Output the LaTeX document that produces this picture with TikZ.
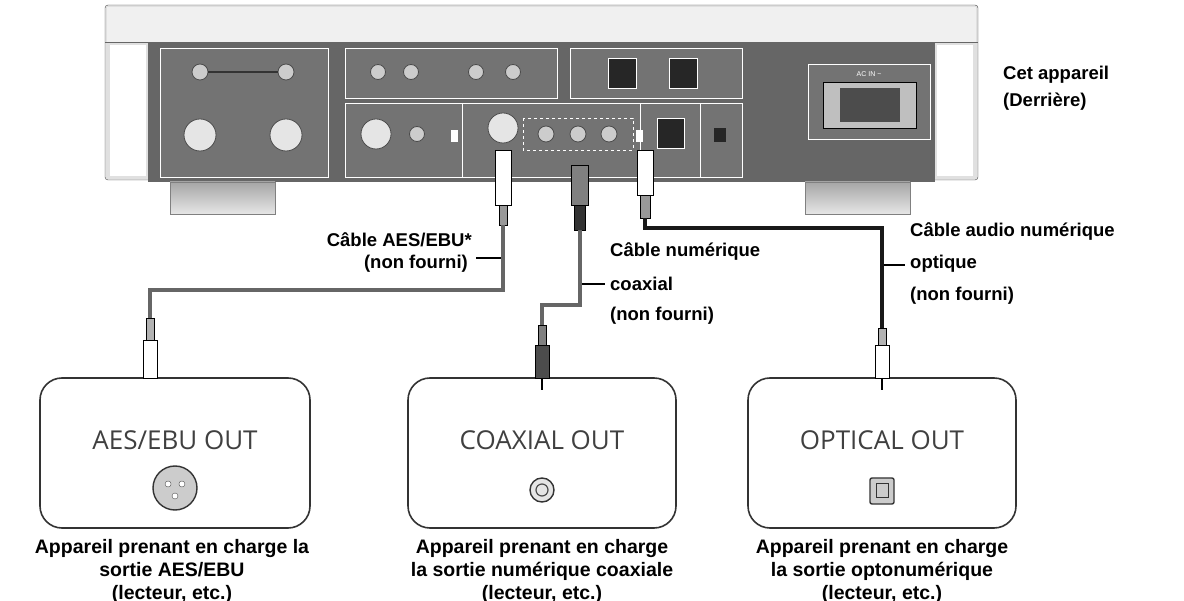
\documentclass[tikz,border=0pt]{standalone}
\usepackage{fontspec}
\setmainfont{Liberation Sans}
\newfontfamily\boxfont{Open Sans}
\begin{document}
\begin{tikzpicture}[x=1pt,y=-1pt,
  lbl/.style={font=\fontsize{18.5}{22}\selectfont\bfseries, inner sep=0pt},
  captext/.style={font=\fontsize{19.5}{23}\selectfont\bfseries, align=center, inner sep=0pt},
  title/.style={font=\boxfont\fontsize{26}{28}\selectfont, text=black!75, inner sep=0pt},
  devbox/.style={draw=black!80, line width=1.6pt, rounded corners=22pt, fill=white},
  subpanel/.style={draw=white, line width=1pt, fill=black!55},
  jack/.style={circle, draw=black!70, fill=black!20, line width=0.8pt},
  cable/.style={line width=3.6pt, draw=black!60},
  leader/.style={line width=1.6pt}]
\useasboundingbox (0,0) rectangle (1184,601);

% device body
\fill[black!12, draw=black!70, rounded corners=3pt] (105,5) rectangle (978,180);
\fill[black!6] (107,7) rectangle (976,42);
\draw[black!60] (105,42) -- (978,42);
\fill[white] (110,45) rectangle (146,176);
\fill[white] (937,45) rectangle (973,176);
\fill[black!60] (148,42) rectangle (935,182);
% feet
\shade[top color=black!35, bottom color=black!10, draw=black!50] (170,182) rectangle (275,214);
\shade[top color=black!35, bottom color=black!10, draw=black!50] (805,182) rectangle (910,214);

% panels
\draw[subpanel] (160,49) rectangle (328,178);
\draw[subpanel] (345,49) rectangle (557,99);
\draw[subpanel] (570,49) rectangle (742,99);
\draw[subpanel] (345,104) rectangle (462,178);
\draw[subpanel] (462,104) rectangle (640,178);
\draw[subpanel] (640,104) rectangle (700,178);
\draw[subpanel] (700,104) rectangle (742,178);
\draw[subpanel] (808,65) rectangle (930,140);
\node[font=\fontsize{7}{8}\selectfont, text=white] at (869,74) {AC IN \textasciitilde};
\fill[black!25, draw=black] (823,82) rectangle (916,128);
\fill[black!70] (840,88) rectangle (900,122);

% jacks
\foreach \x in {200,286} \node[jack, minimum size=16pt] at (\x,72) {};
\draw[black!80, line width=2pt] (208,72) -- (278,72);
\foreach \x in {200,286} \node[jack, minimum size=32pt, fill=black!10] at (\x,135) {};
\foreach \x in {378,411,476,513} \node[jack, minimum size=15pt] at (\x,72) {};
\foreach \x in {622,683} \fill[black!85, draw=white] (\x-14,58) rectangle (\x+14,88);
\node[jack, minimum size=30pt, fill=black!10] at (376,134) {};
\node[jack, minimum size=15pt] at (417,134) {};
\fill[white] (451,130) rectangle (458,142);
\node[jack, minimum size=30pt, fill=black!10] at (503,128) {};
\draw[white, dashed, line width=0.8pt] (523,118) rectangle (633,150);
\foreach \x in {546,578,609} \node[jack, minimum size=16pt] at (\x,134) {};
\fill[white] (636,130) rectangle (643,142);
\fill[black!85, draw=white] (657,118) rectangle (684,148);
\fill[black!85] (714,128) rectangle (726,142);

% device plugs
\fill[white, draw=black] (495,150) rectangle (511,205);
\fill[black!40, draw=black] (499,205) rectangle (507,225);
\fill[black!50, draw=black] (571,165) rectangle (588,205);
\fill[black!80, draw=black] (574,205) rectangle (585,230);
\fill[white, draw=black] (637,150) rectangle (653,195);
\fill[black!40, draw=black] (640,195) rectangle (650,218);
\coordinate (aestop) at (503,225);
\coordinate (coaxtop) at (580,230);
\coordinate (opttop) at (645,218);

% device label
\node[lbl, anchor=west] (dev1) at (1003,75) {Cet appareil};
\node[lbl, anchor=west] (dev2) at (1003,102) {(Derrière)};

% boxes
\draw[devbox] (40,378) rectangle (310,528);
\draw[devbox] (408,378) rectangle (676,528);
\draw[devbox] (748,378) rectangle (1016,528);
\node[title] (t1) at (175,440) {AES/EBU OUT};
\node[title] (t2) at (542,440) {COAXIAL OUT};
\node[title] (t3) at (882,440) {OPTICAL OUT};

% box connectors
\node[circle, draw=black!80, fill=black!20, line width=1.4pt, minimum size=44pt] (xlr) at (175,488) {};
\foreach \a in {90,210,330} \fill[white, draw=black!70] (xlr.center) ++(\a:8) circle (3);
\node[circle, draw=black!80, fill=black!10, line width=1.4pt, minimum size=24pt] (rca) at (542,490) {};
\draw[black!70, line width=1.2pt] (rca.center) circle (6);
\fill[black!20, draw=black!80, line width=1.4pt, rounded corners=2pt] (870,478) rectangle (894,504);
\draw[black!80, line width=1pt] (876,484) rectangle (888,498);

% box plugs
\fill[white, draw=black] (143,340) rectangle (157,378);
\fill[black!30, draw=black] (146,318) rectangle (154,340);
\fill[black!70, draw=black] (535,345) rectangle (549,378);
\fill[black!50, draw=black] (538,325) rectangle (546,345);
\draw[black, line width=1.4pt] (542,378) -- (542,390);
\fill[white, draw=black] (875,345) rectangle (889,378);
\fill[black!30, draw=black] (878,328) rectangle (886,345);
\draw[black, line width=1.4pt] (882,378) -- (882,390);
\coordinate (aesbot) at (150,318);
\coordinate (coaxbot) at (542,325);
\coordinate (optbot) at (882,328);

% cables
\draw[cable] (aestop) -- (503,290) -- (150,290) -- (aesbot);
\draw[cable] (coaxtop) -- (580,305) -- (542,305) -- (coaxbot);
\draw[cable, draw=black!90] (opttop) -- (645,228) -- (882,228) -- (optbot);

% cable labels
\node[lbl, anchor=east] (aes1) at (472,240) {Câble AES/EBU*};
\node[lbl, anchor=east] (aes2) at (468,264) {(non fourni)};
\draw[leader] (476,258) -- (501,258);
\node[lbl, anchor=west] (co1) at (610,252) {Câble numérique};
\node[lbl, anchor=west] (co2) at (610,284) {coaxial};
\node[lbl, anchor=west] (co3) at (610,316) {(non fourni)};
\draw[leader] (582,284) -- (605,284);
\node[lbl, anchor=west] (op1) at (910,232) {Câble audio numérique};
\node[lbl, anchor=west] (op2) at (910,264) {optique};
\node[lbl, anchor=west] (op3) at (910,296) {(non fourni)};
\draw[leader] (884,265) -- (905,265);

% captions
\node[captext, anchor=north] (c1) at (172,539) {Appareil prenant en charge la\\sortie AES/EBU\\(lecteur, etc.)};
\node[captext, anchor=north] (c2) at (542,539) {Appareil prenant en charge\\la sortie numérique coaxiale\\(lecteur, etc.)};
\node[captext, anchor=north] (c3) at (882,539) {Appareil prenant en charge\\la sortie optonumérique\\(lecteur, etc.)};
\end{tikzpicture}
\end{document}
